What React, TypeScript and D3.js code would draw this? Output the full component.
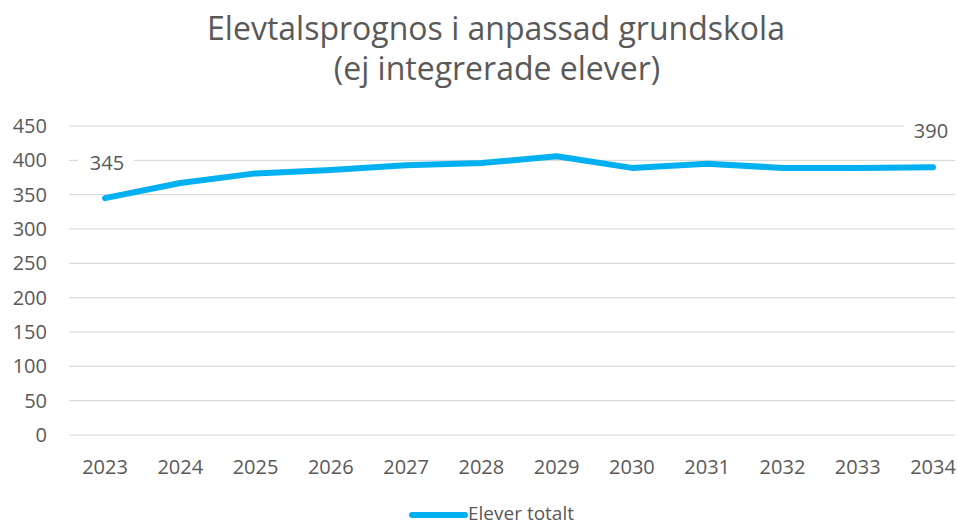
import React from 'react';
import * as d3 from 'd3';

const years = ['2023', '2024', '2025', '2026', '2027', '2028', '2029', '2030', '2031', '2032', '2033', '2034'];
const elever = [345, 367, 381, 386, 393, 396, 406, 389, 395, 389, 389, 390];
const yTicks = [0, 50, 100, 150, 200, 250, 300, 350, 400, 450];
const titleLines = ['Elevtalsprognos i anpassad grundskola', '(ej integrerade elever)'];
const seriesName = 'Elever totalt';

const W = 958;
const H = 527;
const FONT = '"Open Sans", sans-serif';
const GREY = '#595959';
const BLUE = '#00B0F0';

const App = () => {
  const x = d3.scalePoint<string>().domain(years).range([105, 933]);
  const y = d3.scaleLinear().domain([0, 450]).range([435, 126]);

  const line = d3.line<number>()
    .x((_, i) => x(years[i]) as number)
    .y(d => y(d));

  const last = years.length - 1;

  return (
    <svg width={W} height={H} style={{ position: 'absolute', left: 0, top: 0, background: '#fff' }}>
      {/* title */}
      <text x={496} y={40} textAnchor="middle" fontFamily={FONT} fontSize={32} fill={GREY}>{titleLines[0]}</text>
      <text x={497} y={80} textAnchor="middle" fontFamily={FONT} fontSize={32} fill={GREY}>{titleLines[1]}</text>

      {/* grid + y axis */}
      {yTicks.map(t => (
        <g key={t}>
          <line x1={69} x2={955} y1={y(t)} y2={y(t)} stroke="#d4d4d4" strokeWidth={1} />
          <text x={47} y={y(t) + 7} textAnchor="end" fontFamily={FONT} fontSize={20} fill={GREY}>{t}</text>
        </g>
      ))}

      {/* x axis labels */}
      {years.map(yr => (
        <text key={yr} x={x(yr)} y={474} textAnchor="middle" fontFamily={FONT} fontSize={20} fill={GREY}>{yr}</text>
      ))}

      {/* data labels with white backing */}
      <rect x={78} y={148} width={56} height={26} fill="#fff" />
      <text x={107} y={170} textAnchor="middle" fontFamily={FONT} fontSize={20} fill={GREY}>{elever[0]}</text>
      <rect x={904} y={116} width={54} height={26} fill="#fff" />
      <text x={931} y={138} textAnchor="middle" fontFamily={FONT} fontSize={20} fill={GREY}>{elever[last]}</text>

      {/* series */}
      <path d={line(elever) || ''} fill="none" stroke={BLUE} strokeWidth={6} strokeLinecap="round" strokeLinejoin="round" />

      {/* legend */}
      <line x1={412} x2={465} y1={515} y2={515} stroke={BLUE} strokeWidth={6} strokeLinecap="round" />
      <text x={468} y={520} fontFamily={FONT} fontSize={19} fill={GREY}>{seriesName}</text>
    </svg>
  );
};

export default App;
